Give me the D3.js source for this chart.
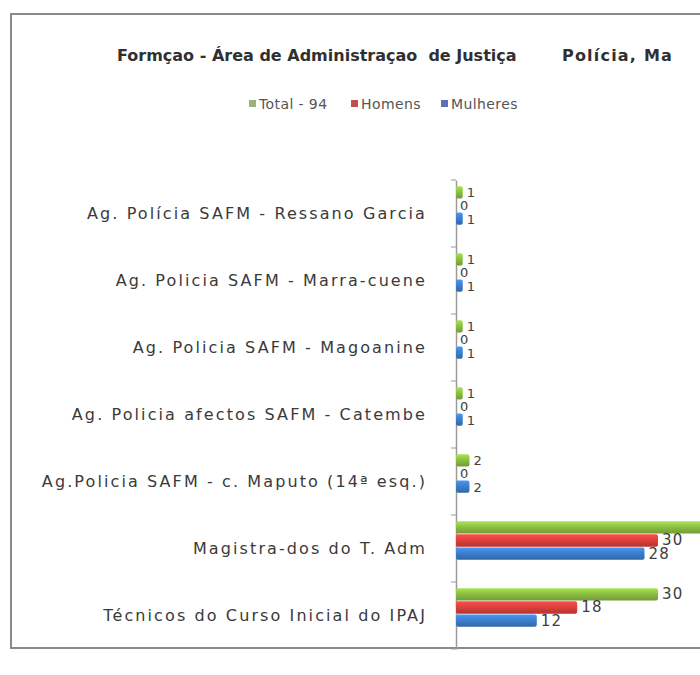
<!DOCTYPE html>
<html>
<head>
<meta charset="utf-8">
<script src="https://cdn.jsdelivr.net/npm/d3@7"></script>
<style>
  body { margin: 0; background: #fff; }
  svg { display: block; font-family: "DejaVu Sans", "Open Sans", sans-serif; }
</style>
</head>
<body>
<div class="chart"></div>
<script>
var w = 700, h = 675;

// data
var categories = [
	"Ag. Polícia SAFM - Ressano Garcia",
	"Ag. Policia SAFM - Marra-cuene",
	"Ag. Policia SAFM - Magoanine",
	"Ag. Policia afectos SAFM - Catembe",
	"Ag.Policia SAFM - c. Maputo (14ª esq.)",
	"Magistra-dos do T. Adm",
	"Técnicos do Curso Inicial do IPAJ"
];
var seriesNames = ["Total - 94", "Homens", "Mulheres"];
var total    = [1, 1, 1, 1, 2, 58, 30];
var homens   = [0, 0, 0, 0, 0, 30, 18];
var mulheres = [1, 1, 1, 1, 2, 28, 12];

var colors = ["#8dc044", "#e0413d", "#3d7fcf"];
var legendColors = ["#9fb07a", "#c0504d", "#5a6fb8"];

var rows = categories.map(function(c, i) {
	return { cat: c, vals: [total[i], homens[i], mulheres[i]] };
});

var svg = d3.select('.chart').append('svg')
	.attr('width', w)
	.attr('height', h);

// gradients for the glossy excel bars
var defs = svg.append('defs');
colors.forEach(function(c, i) {
	var g = defs.append('linearGradient')
		.attr('id', 'g' + i)
		.attr('x1', 0).attr('y1', 0).attr('x2', 0).attr('y2', 1);
	g.append('stop').attr('offset', '0%').attr('stop-color', d3.color(c).brighter(0.5));
	g.append('stop').attr('offset', '45%').attr('stop-color', c);
	g.append('stop').attr('offset', '100%').attr('stop-color', d3.color(c).darker(0.6));
});

// chart frame (cropped on the right)
svg.append('rect')
	.attr('x', 11).attr('y', 14)
	.attr('width', 760).attr('height', 634)
	.attr('fill', 'none')
	.attr('stroke', '#8a8a8a')
	.attr('stroke-width', 2);

// title (the reference is cropped on the right, so only its visible part is kept)
var title = svg.append('text')
	.attr('y', 61)
	.attr('font-size', 16)
	.attr('font-weight', 'bold')
	.attr('fill', '#303030')
	.style('white-space', 'pre');
title.append('tspan').attr('x', 117).text('Formçao - Área de Administraçao  de Justiça');
title.append('tspan').attr('x', 562).attr('letter-spacing', 1.2).text('Polícia, Ma');

// legend
var legX = [249, 351, 441];
var legend = svg.append('g').selectAll('g')
	.data(seriesNames)
	.enter().append('g')
	.attr('transform', function(d, i) { return 'translate(' + [legX[i], 104] + ')'; });
legend.append('rect')
	.attr('x', 0).attr('y', -4)
	.attr('width', 7).attr('height', 7)
	.attr('fill', function(d, i) { return legendColors[i]; });
legend.append('text')
	.attr('x', 10).attr('y', 5)
	.attr('font-size', 14)
	.attr('letter-spacing', 0.4)
	.attr('fill', '#555')
	.text(function(d) { return d; });

// scales
var x = d3.scaleLinear().domain([0, 60]).range([456, 860]);
var y = d3.scaleBand().domain(categories).range([172, 641])
	.paddingInner(0.4).paddingOuter(0.2);
var y1 = d3.scaleBand().domain(d3.range(3)).range([0, y.bandwidth()]).padding(0.06);

// category axis
var axis = svg.append('g')
	.attr('transform', 'translate(456,8)')
	.call(d3.axisLeft(y).tickSize(0).tickPadding(29));
axis.select('.domain').attr('stroke', '#9a9a9a').attr('stroke-width', 1.5);
axis.selectAll('text')
	.attr('font-size', 16)
	.attr('letter-spacing', 2.1)
	.attr('fill', '#3a3a3a')
	.attr('font-family', '"DejaVu Sans", sans-serif');

// small category boundary ticks
svg.append('g').selectAll('line')
	.data(categories.concat(['end']))
	.enter().append('line')
	.attr('x1', 451).attr('x2', 456)
	.attr('y1', function(d, i) { return 180 + i * y.step(); })
	.attr('y2', function(d, i) { return 180 + i * y.step(); })
	.attr('stroke', '#9a9a9a');

// bars
var groups = svg.append('g').selectAll('g')
	.data(rows)
	.enter().append('g')
	.attr('transform', function(d) { return 'translate(0,' + y(d.cat) + ')'; });

groups.selectAll('rect')
	.data(function(d) { return d.vals; })
	.enter().append('rect')
	.attr('x', x(0))
	.attr('y', function(d, i) { return y1(i); })
	.attr('width', function(d) { return x(d) - x(0); })
	.attr('height', y1.bandwidth())
	.attr('rx', 2)
	.attr('fill', function(d, i) { return 'url(#g' + i + ')'; });

// value labels; the reference is cropped on the right so labels past the edge are not drawn
groups.selectAll('text')
	.data(function(d) { return d.vals.map(function(v, i) { return { v: v, i: i }; })
		.filter(function(p) { return x(p.v) + 4 < w - 20; }); })
	.enter().append('text')
	.attr('x', function(d) { return x(d.v) + 4; })
	.attr('y', function(d) { return y1(d.i) + y1.bandwidth() / 2 + 5; })
	.attr('font-size', function(d) { return d.v < 5 ? 13 : 15; })
	.attr('letter-spacing', 1.2)
	.attr('fill', '#404040')
	.text(function(d) { return d.v; });
</script>
</body>
</html>
